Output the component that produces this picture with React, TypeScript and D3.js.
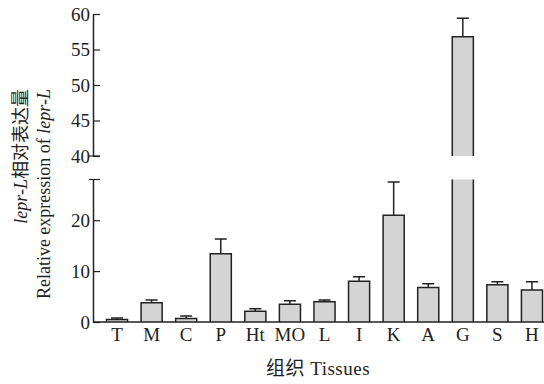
import { useEffect, useRef } from "react";
import * as d3 from "d3";

// tissue codes along the x axis
const categories = ["T", "M", "C", "P", "Ht", "MO", "L", "I", "K", "A", "G", "S", "H"];
// relative expression (mean) and upper error (SD)
const means = [0.5, 3.8, 0.7, 13.4, 2.1, 3.5, 4.0, 8.0, 21.0, 6.8, 56.8, 7.3, 6.3];
const errors = [0.3, 0.5, 0.5, 2.9, 0.5, 0.7, 0.3, 0.9, 6.5, 0.7, 2.6, 0.6, 1.6];
// broken y axis: lower and upper segments
const lowerDomain = [0, 28];
const upperDomain = [40, 60];
const lowerTicks = [0, 10, 20];
const upperTicks = [40, 45, 50, 55, 60];

const FONT = "Liberation Serif, Times New Roman, DejaVu Serif, Noto Sans CJK SC, serif";
const INK = "#222";

export default function App() {
  const svgRef = useRef<SVGSVGElement>(null);

  useEffect(() => {
    if (!svgRef.current) return;
    const svg = d3.select(svgRef.current);
    svg.selectAll("*").remove();

    const axisX = 93;
    const x = d3.scaleBand<string>().domain(categories).range([axisX, 556]).padding(0.39);
    const yLow = d3.scaleLinear().domain(lowerDomain).range([322, 179.5]);
    const yHigh = d3.scaleLinear().domain(upperDomain).range([156, 14]);

    const data = categories.map((c, i) => ({ cat: c, v: means[i], e: errors[i] }));
    const yOf = (v: number) => (v > lowerDomain[1] ? yHigh(v) : yLow(v));

    const g = svg.append("g");

    // bars
    data.forEach((d) => {
      const x0 = x(d.cat)!;
      const w = x.bandwidth();
      const base = yLow(0);
      if (d.v <= lowerDomain[1]) {
        const top = yLow(d.v);
        g.append("rect").attr("x", x0).attr("y", top).attr("width", w)
          .attr("height", base - top).attr("fill", "#d4d4d4");
        g.append("path")
          .attr("d", `M${x0},${base}V${top}H${x0 + w}V${base}`)
          .attr("fill", "none").attr("stroke", INK).attr("stroke-width", 1.5);
      } else {
        // bar broken at the axis gap
        const lowTop = yLow(lowerDomain[1]);
        const hiBase = yHigh(upperDomain[0]);
        const top = yHigh(d.v);
        g.append("rect").attr("x", x0).attr("y", lowTop).attr("width", w)
          .attr("height", base - lowTop).attr("fill", "#d4d4d4");
        g.append("rect").attr("x", x0).attr("y", top).attr("width", w)
          .attr("height", hiBase - top).attr("fill", "#d4d4d4");
        g.append("path")
          .attr("d", `M${x0},${base}V${lowTop}M${x0 + w},${lowTop}V${base}` +
            `M${x0},${hiBase}V${top}H${x0 + w}V${hiBase}`)
          .attr("fill", "none").attr("stroke", INK).attr("stroke-width", 1.5);
      }
      // error bar (upper only)
      const cx = x0 + w / 2;
      const yTop = yOf(d.v);
      const yErr = yOf(d.v + d.e);
      g.append("path")
        .attr("d", `M${cx},${yTop}V${yErr}M${cx - 6},${yErr}H${cx + 6}`)
        .attr("fill", "none").attr("stroke", INK).attr("stroke-width", 1.5);
    });

    // x axis line
    svg.append("line")
      .attr("x1", axisX).attr("x2", 544)
      .attr("y1", yLow(0)).attr("y2", yLow(0))
      .attr("stroke", INK).attr("stroke-width", 1.5);

    // category labels
    svg.append("g")
      .selectAll("text")
      .data(categories)
      .join("text")
      .attr("x", (d) => x(d)! + x.bandwidth() / 2)
      .attr("y", 341)
      .attr("text-anchor", "middle")
      .attr("font-family", FONT)
      .attr("font-size", 19)
      .attr("fill", INK)
      .text((d) => d);

    // y axes (inward ticks)
    const styleAxis = (sel: d3.Selection<SVGGElement, unknown, null, undefined>) => {
      sel.attr("font-family", FONT).attr("font-size", 19);
      sel.select(".domain").attr("stroke", INK).attr("stroke-width", 1.5);
      sel.selectAll(".tick line").attr("stroke", INK).attr("stroke-width", 1.2);
      sel.selectAll(".tick text")
        .attr("fill", INK)
        .style("font-family", FONT)
        .style("font-size", "19px");
    };

    svg.append("g")
      .attr("transform", `translate(${axisX},0)`)
      .call(d3.axisLeft(yHigh).tickValues(upperTicks).tickSizeInner(-7).tickSizeOuter(0).tickPadding(3))
      .call(styleAxis);

    svg.append("g")
      .attr("transform", `translate(${axisX},0)`)
      .call(d3.axisLeft(yLow).tickValues(lowerTicks).tickSizeInner(-7).tickSizeOuter(0).tickPadding(3))
      .call(styleAxis);

    // crossing ticks at the axis break
    [yHigh(upperDomain[0]), yLow(lowerDomain[1])].forEach((yy) => {
      svg.append("line")
        .attr("x1", axisX - 4).attr("x2", axisX + 7)
        .attr("y1", yy).attr("y2", yy)
        .attr("stroke", INK).attr("stroke-width", 1.2);
    });

    // y titles
    const t1 = svg.append("text")
      .attr("transform", "translate(27,89) rotate(-90)")
      .attr("text-anchor", "end")
      .attr("font-family", FONT)
      .attr("font-size", 18)
      .attr("fill", INK);
    t1.append("tspan").attr("font-style", "italic").text("lepr-L");
    t1.append("tspan").text("相对表达量");

    const t2 = svg.append("text")
      .attr("transform", "translate(50,89) rotate(-90)")
      .attr("text-anchor", "end")
      .attr("font-family", FONT)
      .attr("font-size", 18)
      .attr("fill", INK);
    t2.append("tspan").text("Relative expression of ");
    t2.append("tspan").attr("font-style", "italic").text("lepr-L");

    // x title
    svg.append("text")
      .attr("x", 318)
      .attr("y", 375)
      .attr("text-anchor", "middle")
      .attr("font-family", FONT)
      .attr("font-size", 19)
      .attr("letter-spacing", 0.5)
      .attr("fill", INK)
      .text("组织 Tissues");
  }, []);

  return (
    <svg
      ref={svgRef}
      width={544}
      height={384}
      style={{ position: "absolute", left: 0, top: 0, background: "#fff" }}
    />
  );
}
